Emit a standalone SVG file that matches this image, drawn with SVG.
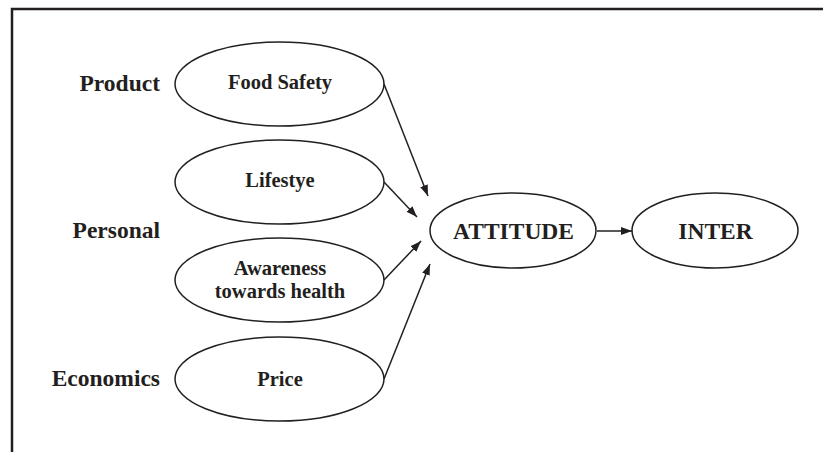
<svg xmlns="http://www.w3.org/2000/svg" width="823" height="452" viewBox="0 0 823 452">
<style>
.n ellipse{fill:#fff;stroke:#231f20;stroke-width:1.5}
text{font-family:"Liberation Serif","Times New Roman",serif;font-weight:bold;fill:#231f20}
.in{font-size:20.5px;text-anchor:middle}
.big{font-size:23.5px;text-anchor:middle}
.lab{font-size:23.5px;text-anchor:end}
.c line{stroke:#231f20;stroke-width:1.5;marker-end:url(#ah)}
</style>
<defs>
<marker id="ah" viewBox="0 0 11 8" refX="11" refY="4" markerWidth="11" markerHeight="8" markerUnits="userSpaceOnUse" orient="auto">
<path d="M0,0 L11,4 L0,8 z" fill="#231f20"/>
</marker>
</defs>
<rect width="823" height="452" fill="#fff"/>
<path d="M12,452 V9 H823" fill="none" stroke="#231f20" stroke-width="2.5"/>
<g id="labels">
<text class="lab" x="160" y="91">Product</text>
<text class="lab" x="160" y="238">Personal</text>
<text class="lab" x="160" y="386">Economics</text>
</g>
<g id="food-safety" class="n"><ellipse cx="279.5" cy="84" rx="104.5" ry="42"/><text class="in" x="280" y="89">Food Safety</text></g>
<g id="lifestye" class="n"><ellipse cx="279.5" cy="182" rx="104.5" ry="42"/><text class="in" x="280" y="187">Lifestye</text></g>
<g id="awareness" class="n"><ellipse cx="279.5" cy="280" rx="104.5" ry="42"/><text class="in" x="280" y="275">Awareness</text><text class="in" x="280" y="298">towards health</text></g>
<g id="price" class="n"><ellipse cx="279.5" cy="379" rx="104.5" ry="42"/><text class="in" x="280" y="386">Price</text></g>
<g id="attitude" class="n"><ellipse cx="513" cy="230.5" rx="83" ry="37.5"/><text class="big" x="513.5" y="239">ATTITUDE</text></g>
<g id="inter" class="n"><ellipse cx="715" cy="230.5" rx="83" ry="37.5"/><text class="big" x="715.5" y="239">INTER</text></g>
<g id="connectors" class="c">
<line x1="384" y1="84" x2="428" y2="196"/>
<line x1="384" y1="182" x2="417" y2="217"/>
<line x1="384" y1="280" x2="421" y2="241"/>
<line x1="384" y1="379" x2="430" y2="264"/>
<line x1="597" y1="231" x2="632" y2="231"/>
</g>
</svg>
